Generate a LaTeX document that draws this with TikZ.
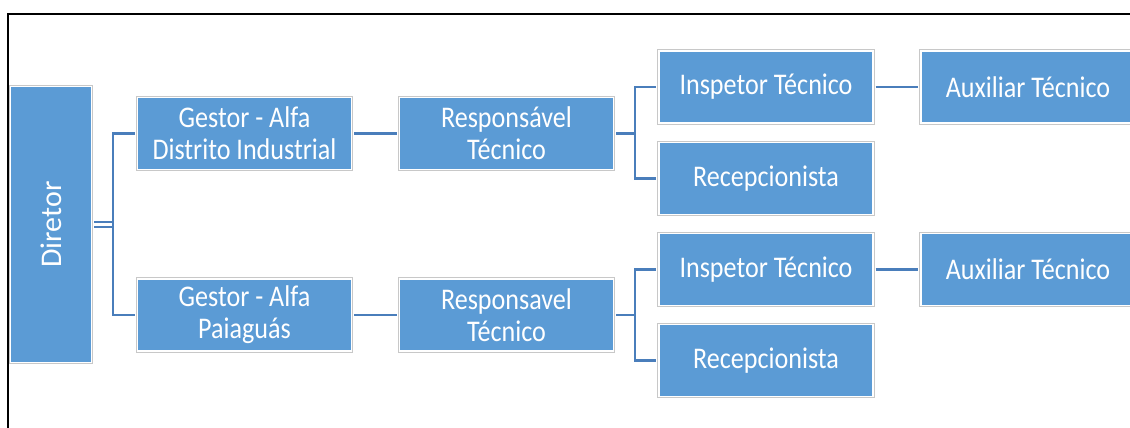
\documentclass[tikz,border=0pt]{standalone}
\usepackage{fontspec}
\setmainfont{Carlito}
\newfontfamily\boxfont[FakeStretch=0.87]{Carlito}
\definecolor{boxblue}{HTML}{5B9BD5}
\definecolor{linkblue}{HTML}{4A7EBB}
\definecolor{rimgray}{HTML}{C8C8C8}
\tikzset{
  orgbox/.style={rectangle, fill=boxblue, draw=white, line width=1.8pt,
    preaction={draw=rimgray, line width=3.5pt},
    minimum width=214pt, minimum height=72pt, inner sep=0pt,
    text=white, align=center, font=\boxfont\fontsize{30}{32}\selectfont},
  link/.style={draw=linkblue, line width=2.6pt}
}
\begin{document}
\begin{tikzpicture}[x=1pt,y=-1pt]
\useasboundingbox (0,0) rectangle (1130,428);
\fill[white] (0,0) rectangle (1130,428);
\draw[black, line width=2pt] (8,430) -- (8,14) -- (1132,14);

\node[orgbox, minimum width=81pt, minimum height=276pt, font=\fontsize{30}{32}\selectfont] (dir) at (51,224.5) {\rotatebox{90}{Diretor}};

\node[orgbox] (g1) at (244.5,133.5) {Gestor - Alfa\\Distrito Industrial};
\node[orgbox] (g2) at (244.5,315) {Gestor - Alfa\\Paiaguás};
\node[orgbox] (r1) at (506.5,133.5) {Responsável\\Técnico};
\node[orgbox] (r2) at (506.5,315) {Responsavel\\Técnico};
\node[orgbox] (i1) at (766,87) {Inspetor Técnico};
\node[orgbox] (c1) at (766,178.5) {Recepcionista};
\node[orgbox] (a1) at (1028,87) {Auxiliar Técnico};
\node[orgbox] (i2) at (766,269.5) {Inspetor Técnico};
\node[orgbox] (c2) at (766,360.5) {Recepcionista};
\node[orgbox] (a2) at (1028,269.5) {Auxiliar Técnico};

\coordinate (d1) at ([yshift=-2.5pt]dir.east);
\coordinate (d2) at ([yshift=2.5pt]dir.east);
\draw[link] ([xshift=1.8pt]d1) -| (113,133.5) -- ([xshift=-1.8pt]g1.west);
\draw[link] ([xshift=1.8pt]d2) -| (113,315) -- ([xshift=-1.8pt]g2.west);

\draw[link] ([xshift=1.8pt]g1.east) -- ([xshift=-1.8pt]r1.west);
\draw[link] ([xshift=1.8pt]g2.east) -- ([xshift=-1.8pt]r2.west);

\draw[link] ([xshift=1.8pt]r1.east) -| (635,87) -- ([xshift=-1.8pt]i1.west);
\draw[link] ([xshift=1.8pt]r1.east) -| (635,178.5) -- ([xshift=-1.8pt]c1.west);
\draw[link] ([xshift=1.8pt]r2.east) -| (635,269.5) -- ([xshift=-1.8pt]i2.west);
\draw[link] ([xshift=1.8pt]r2.east) -| (635,360.5) -- ([xshift=-1.8pt]c2.west);

\draw[link] ([xshift=1.8pt]i1.east) -- ([xshift=-1.8pt]a1.west);
\draw[link] ([xshift=1.8pt]i2.east) -- ([xshift=-1.8pt]a2.west);
\end{tikzpicture}
\end{document}
